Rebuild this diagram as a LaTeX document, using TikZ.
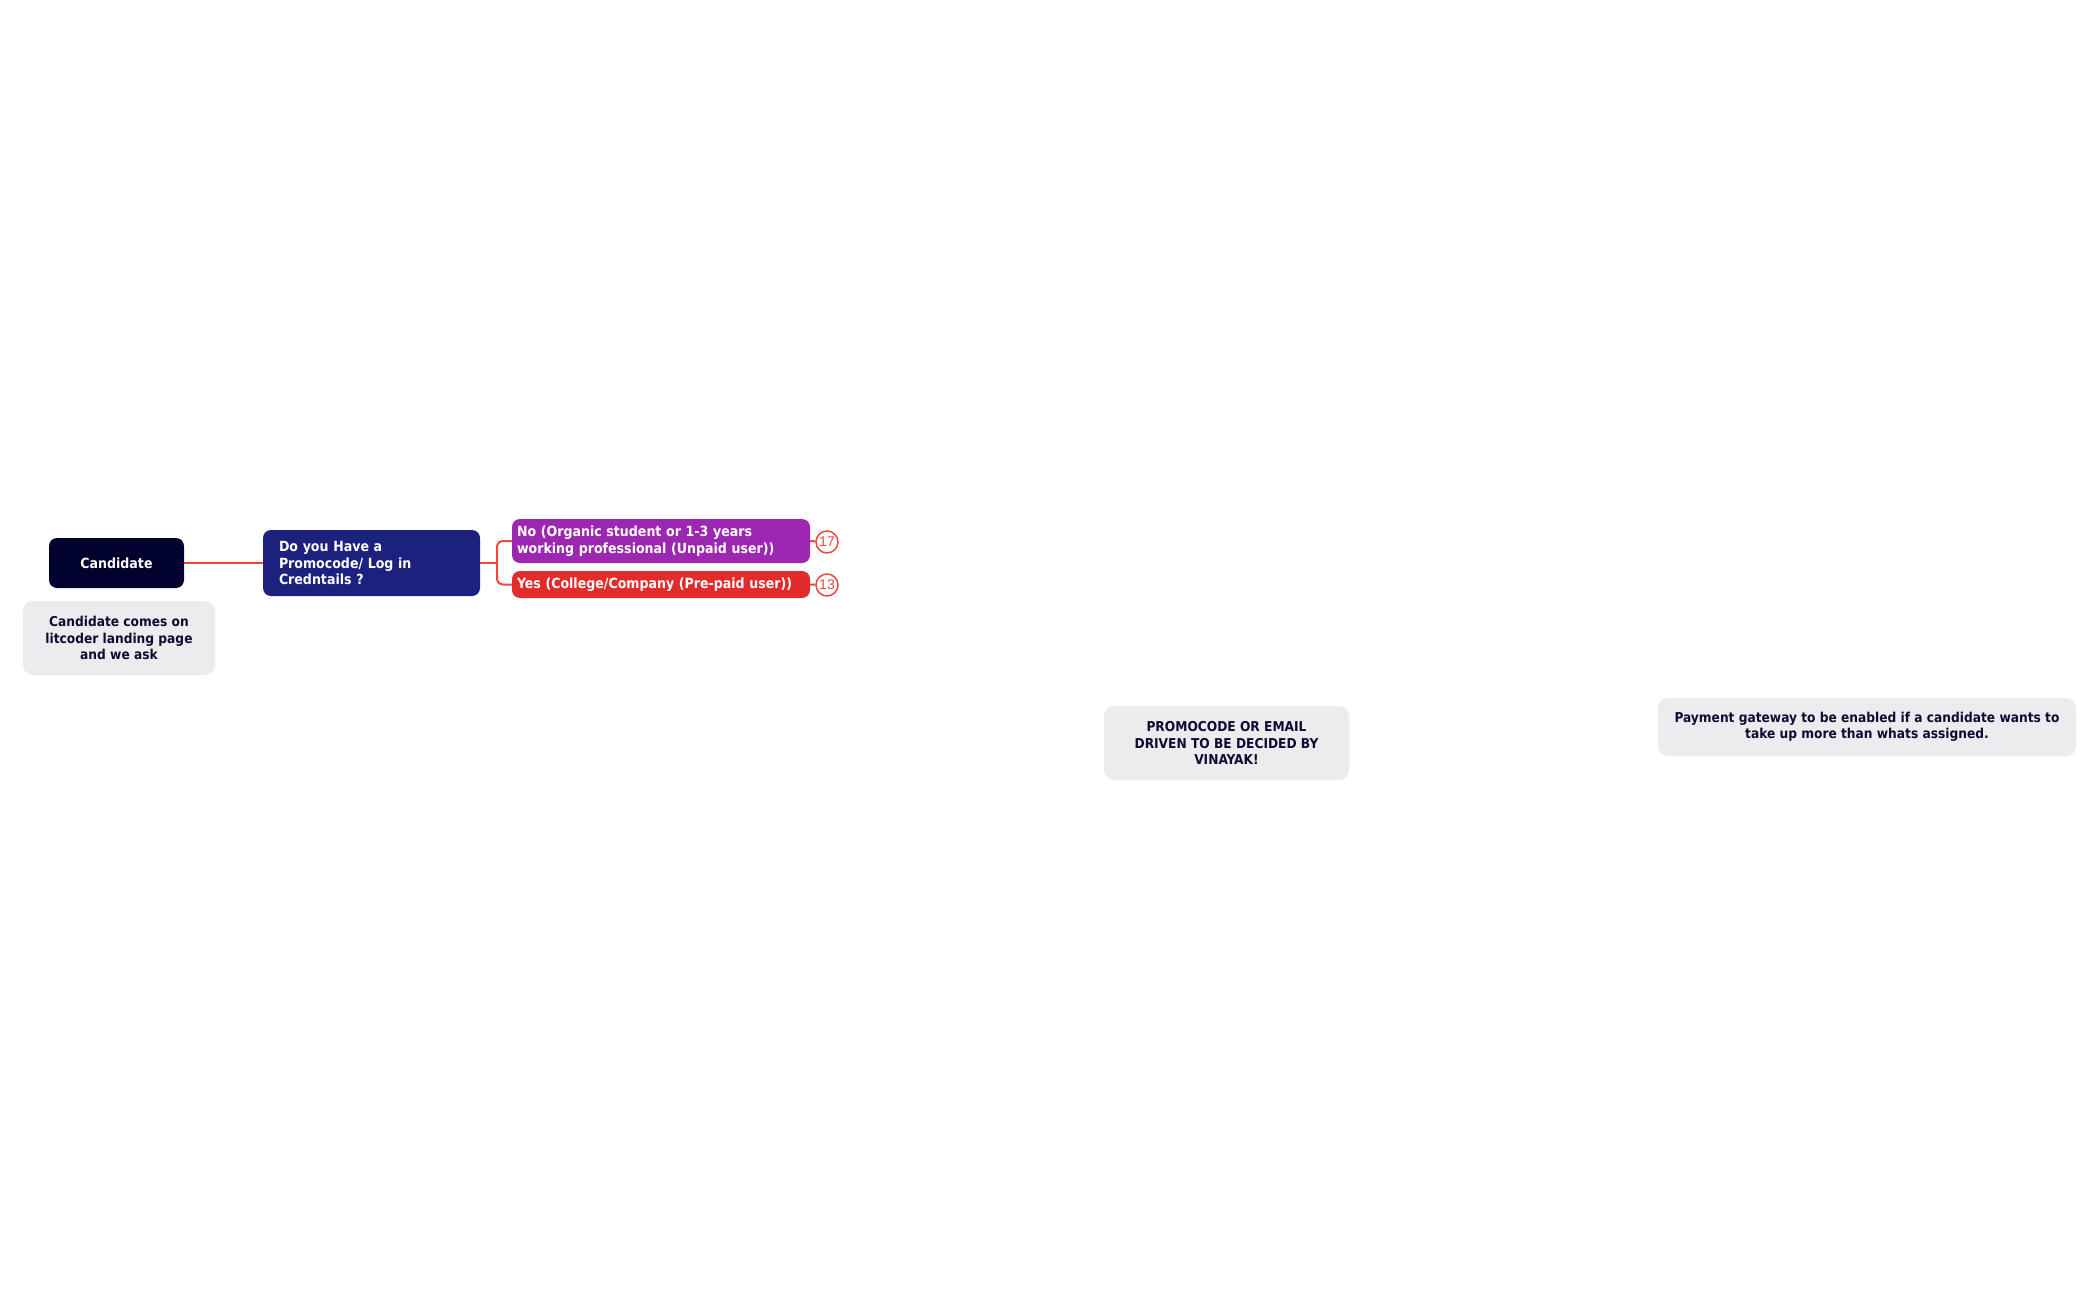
\documentclass[tikz,border=0pt]{standalone}
\usepackage{fontspec}
\setmainfont{DejaVu Sans Condensed}
\newfontfamily\numfont{Liberation Sans}
\usetikzlibrary{positioning, calc, shapes}
\definecolor{darknavy}{RGB}{2,2,46}
\definecolor{indigobox}{RGB}{27,33,125}
\definecolor{purplebox}{RGB}{156,39,176}
\definecolor{redbox}{RGB}{226,44,44}
\definecolor{linkred}{RGB}{240,70,60}
\definecolor{notegray}{RGB}{237,235,238}
\definecolor{notetext}{RGB}{12,12,50}
\tikzstyle{topic} = [rectangle, rounded corners=8pt, text=white, inner ysep=0pt, font=\fontsize{14}{16.5}\selectfont\bfseries]
\tikzstyle{note} = [rectangle, rounded corners=10pt, fill=notegray, text=notetext, align=center, inner sep=0pt, font=\fontsize{13.6}{16.5}\selectfont\bfseries]
\tikzstyle{count} = [circle, draw=linkred, line width=1.5pt, fill=white, text=linkred, minimum size=22pt, inner sep=0pt, font=\numfont\fontsize{14}{14}\selectfont]
\tikzstyle{link} = [line width=2pt, draw=linkred]

\begin{document}
\begin{tikzpicture}[x=1pt, y=-1pt]
	\useasboundingbox (0,0) rectangle (2099,1300);
	\node[topic, fill=darknavy, minimum width=135pt, minimum height=50pt] (cand) at (116.5,563) {Candidate};
	\node[note, minimum width=192pt, minimum height=74pt] (cnote) at (119,638) {Candidate comes on\\litcoder landing page\\and we ask};
	\node[topic, fill=indigobox, align=left, text width=185pt, inner xsep=16pt, minimum height=66pt] (ask) at (371.5,563) {Do you Have a\\Promocode/ Log in\\Credntails ?};
	\node[topic, fill=purplebox, align=left, text width=288pt, inner xsep=5pt, minimum height=44pt] (nopaid) at (661,541) {No (Organic student or 1-3 years\\working professional (Unpaid user))};
	\node[topic, fill=redbox, align=left, text width=288pt, inner xsep=5pt, minimum height=27pt] (prepaid) at (661,584.5) {Yes (College/Company (Pre-paid user))};
	\node[count] (n17) at (827,542) {17};
	\node[count] (n13) at (827,585) {13};
	\node[note, minimum width=245pt, minimum height=74pt] (promo) at (1226.5,743) {PROMOCODE OR EMAIL\\DRIVEN TO BE DECIDED BY\\VINAYAK!};
	\node[note, minimum width=418pt, minimum height=58pt] (pay) at (1867,727) {Payment gateway to be enabled if a candidate wants to\\take up more than whats assigned.};

	% Links
	\coordinate (fork) at (497,563);
	\draw[link] (cand) -- (ask);
	\draw[link] (ask.east) -- (fork);
	\draw[link, rounded corners=6pt] (fork) |- (nopaid.west);
	\draw[link, rounded corners=6pt] (fork) |- (prepaid.west);
	\draw[link] (nopaid.east) -- (n17);
	\draw[link] (prepaid.east) -- (n13);
\end{tikzpicture}
\end{document}
